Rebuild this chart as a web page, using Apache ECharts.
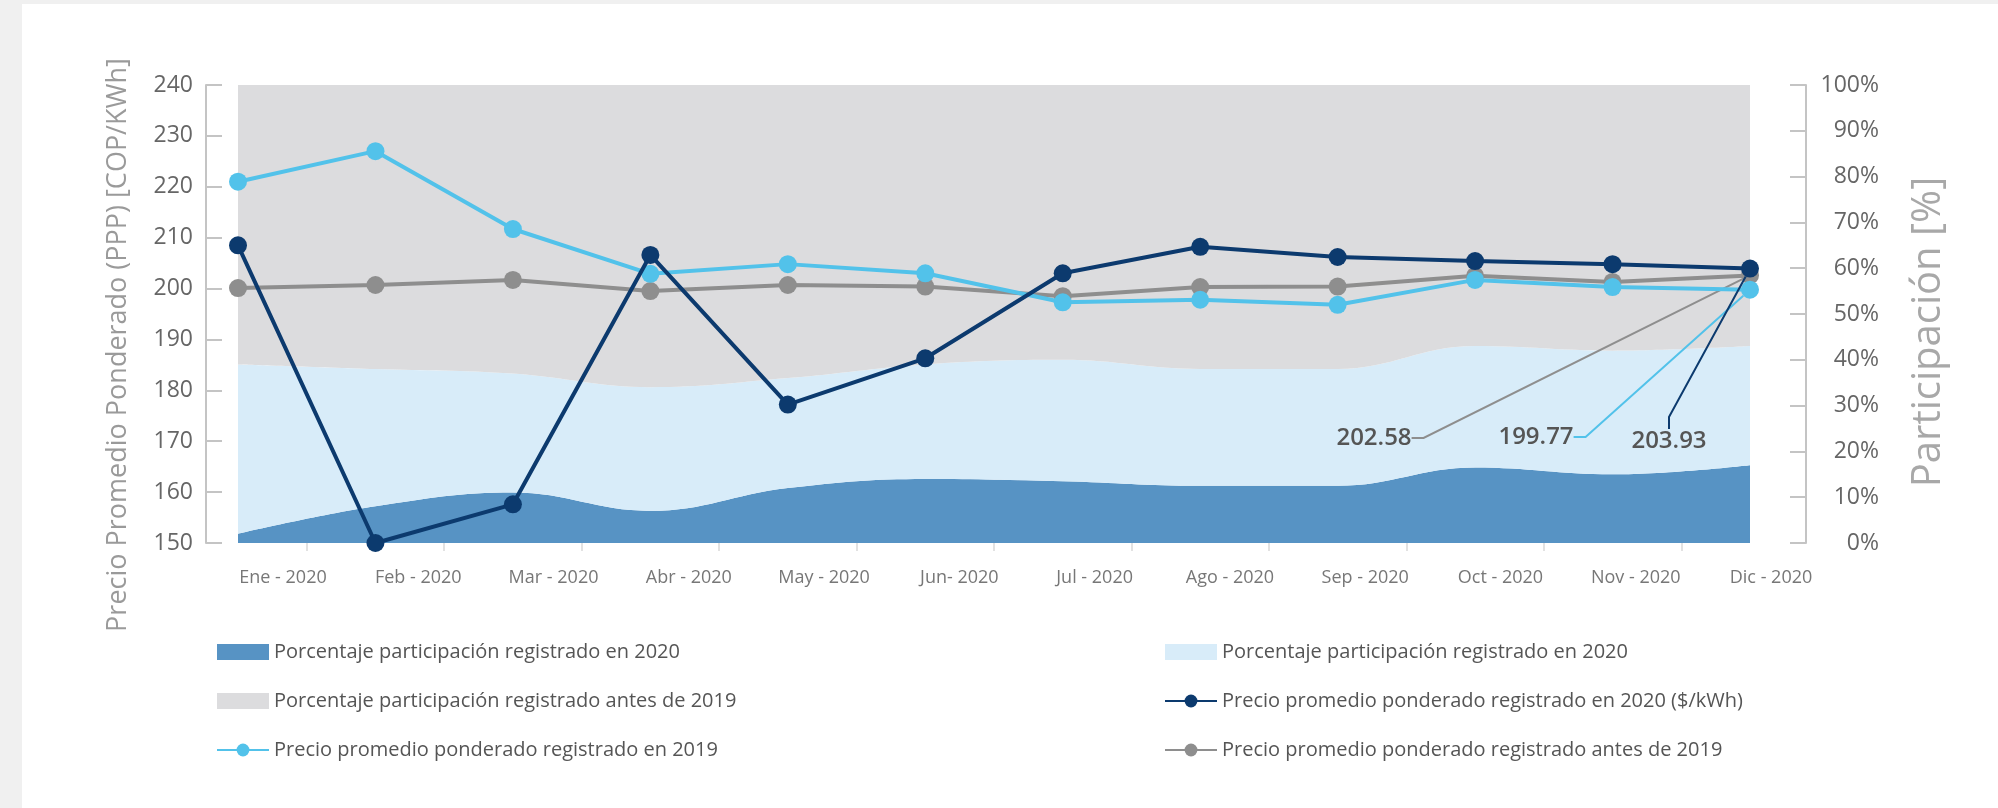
<!DOCTYPE html>
<html lang="es">
<head>
<meta charset="UTF-8" />
<title>Precio promedio ponderado y participación</title>
<style>
	* { box-sizing: border-box; margin: 0; padding: 0; }
	body { width: 1998px; height: 808px; background: #f0f0f0; overflow: hidden; }
	.card { position: absolute; left: 22px; top: 4px; width: 1976px; height: 804px; background: #fff; }
</style>
</head>
<body>
<div class="card" id="main"></div>
<script src="https://cdn.jsdelivr.net/npm/echarts@6/dist/echarts.min.js"></script>
<script>
	// meses del eje x
	var months = ['Ene - 2020', 'Feb - 2020', 'Mar - 2020', 'Abr - 2020', 'May - 2020', 'Jun- 2020',
		'Jul - 2020', 'Ago - 2020', 'Sep - 2020', 'Oct - 2020', 'Nov - 2020', 'Dic - 2020']
	// marcas entre meses (solo ticks)
	var tickSlots = ['', '', '', '', '', '', '', '', '', '', '']

	// participación [%] (apilado)
	var pct2020 = [2, 8, 11, 7, 12, 14, 13.5, 12.5, 12.5, 16.5, 15, 17]
	var pct2020b = [37, 30, 26, 27, 24, 25, 26.5, 25.5, 25.5, 26.5, 27, 26]
	var pctAntes = [61, 62, 63, 66, 64, 61, 60, 62, 62, 57, 58, 57]

	// precio promedio ponderado [COP/kWh]
	var precio2020 = [208.5, 150, 157.6, 206.6, 177.2, 186.3, 203, 208.2, 206.2, 205.4, 204.8, 203.93]
	var precio2019 = [221, 227, 211.7, 202.9, 204.8, 203, 197.3, 197.8, 196.8, 201.7, 200.3, 199.77]
	var precioAntes = [200.1, 200.7, 201.7, 199.5, 200.7, 200.4, 198.5, 200.3, 200.4, 202.5, 201.3, 202.58]

	var legendText = {
		a2020: 'Porcentaje participación registrado en 2020',
		b2020: 'Porcentaje participación registrado en 2020',
		aAntes: 'Porcentaje participación registrado antes de 2019',
		p2020: 'Precio promedio ponderado registrado en 2020 ($/kWh)',
		p2019: 'Precio promedio ponderado registrado en 2019',
		pAntes: 'Precio promedio ponderado registrado antes de 2019'
	}

	var FONT = 'Open Sans'
	var last = months.length - 1

	// solo el último punto lleva etiqueta
	function withEndLabel(arr) {
		return arr.map(function (v, i) {
			return i === last ? { value: v, label: { show: true }, labelLine: { show: true } } : v
		})
	}

	function priceLine(name, arr, color, labelPos, z) {
		return {
			name: name,
			type: 'line',
			xAxisIndex: 0,
			yAxisIndex: 0,
			z: z,
			data: withEndLabel(arr),
			symbol: 'circle',
			symbolSize: 18,
			lineStyle: { color: color, width: 4 },
			itemStyle: { color: color },
			label: {
				show: false,
				formatter: '{c}',
				fontFamily: FONT,
				fontSize: 24,
				fontWeight: 600,
				color: '#555'
			},
			labelLine: { show: false, length2: 12, lineStyle: { color: color, width: 2 } },
			labelLayout: function () {
				return { x: labelPos[0], y: labelPos[1], align: 'center', verticalAlign: 'middle' }
			}
		}
	}

	function areaSeries(name, arr, color) {
		return {
			name: name,
			type: 'line',
			xAxisIndex: 0,
			yAxisIndex: 1,
			stack: 'pct',
			smooth: 0.4,
			symbol: 'none',
			z: 1,
			data: arr,
			lineStyle: { width: 0, color: color },
			itemStyle: { color: color },
			areaStyle: { color: color, opacity: 1 }
		}
	}

	function legendBlock(left, items) {
		return {
			left: left,
			top: 638,
			padding: 0,
			orient: 'vertical',
			itemWidth: 52,
			itemHeight: 16,
			itemGap: 29,
			data: items,
			formatter: function (n) { return legendText[n] },
			textStyle: { fontFamily: FONT, fontSize: 20, lineHeight: 20, color: '#555' }
		}
	}

	var chart = echarts.init(document.getElementById('main'))
	chart.setOption({
		animation: false,
		textStyle: { fontFamily: FONT },
		grid: [
			{ left: 216, right: 248, top: 81, bottom: 265 },
			{ left: 261, right: 227, top: 81, bottom: 265 }
		],
		legend: [
			legendBlock(194, [{ name: 'a2020', icon: 'rect' }, { name: 'aAntes', icon: 'rect' }, 'p2019']),
			legendBlock(1142, [{ name: 'b2020', icon: 'rect' }, 'p2020', 'pAntes'])
		],
		xAxis: [{
			type: 'category',
			gridIndex: 0,
			position: 'bottom',
			data: months,
			boundaryGap: false,
			axisLine: { show: false },
			axisTick: { show: false },
			axisLabel: { show: false }
		}, {
			type: 'category',
			gridIndex: 1,
			position: 'bottom',
			data: months,
			boundaryGap: false,
			axisLine: { show: false },
			axisTick: { show: false },
			axisLabel: { interval: 0, margin: 26, fontFamily: FONT, fontSize: 18, color: '#777' }
		}, {
			type: 'category',
			gridIndex: 0,
			position: 'bottom',
			data: tickSlots,
			boundaryGap: true,
			axisLine: { show: false },
			axisTick: { show: true, alignWithLabel: true, length: 8, lineStyle: { color: '#e2e2e2', width: 2 } },
			axisLabel: { show: false }
		}],
		yAxis: [{
			type: 'value',
			gridIndex: 0,
			position: 'left',
			offset: 32,
			min: 150,
			max: 240,
			interval: 10,
			name: 'Precio Promedio Ponderado (PPP) [COP/KWh]',
			nameLocation: 'middle',
			nameRotate: 90,
			nameGap: 74,
			nameTextStyle: { fontFamily: FONT, fontSize: 27, color: '#9a9a9a', padding: [0, 62, 0, 0] },
			axisLine: { show: true, lineStyle: { color: '#c4c4c4', width: 2 } },
			axisTick: { show: true, inside: true, length: 16, lineStyle: { color: '#c4c4c4', width: 2 } },
			axisLabel: { margin: 13, fontFamily: FONT, fontSize: 23, color: '#666' },
			splitLine: { show: false }
		}, {
			type: 'value',
			gridIndex: 0,
			position: 'right',
			offset: 56,
			min: 0,
			max: 100,
			interval: 10,
			name: 'Participación [%]',
			nameLocation: 'middle',
			nameRotate: 90,
			nameGap: 103,
			nameTextStyle: { fontFamily: FONT, fontSize: 40, color: '#a8a8a8', padding: [0, 36, 0, 0] },
			axisLine: { show: true, lineStyle: { color: '#c4c4c4', width: 2 } },
			axisTick: { show: true, inside: true, length: 16, lineStyle: { color: '#c4c4c4', width: 2 } },
			axisLabel: { margin: 73, align: 'right', formatter: '{value}%', fontFamily: FONT, fontSize: 23, color: '#666' },
			splitLine: { show: false }
		}, {
			type: 'value',
			gridIndex: 1,
			show: false
		}],
		series: [
			areaSeries('a2020', pct2020, '#5793c4'),
			areaSeries('b2020', pct2020b, '#d8ecf9'),
			areaSeries('aAntes', pctAntes, '#dcdcde'),
			priceLine('pAntes', precioAntes, '#8e8e8e', [1352, 434], 3),
			priceLine('p2019', precio2019, '#52c2ea', [1514, 433], 4),
			priceLine('p2020', precio2020, '#0c3a6e', [1647, 437], 5)
		]
	})
</script>
</body>
</html>
